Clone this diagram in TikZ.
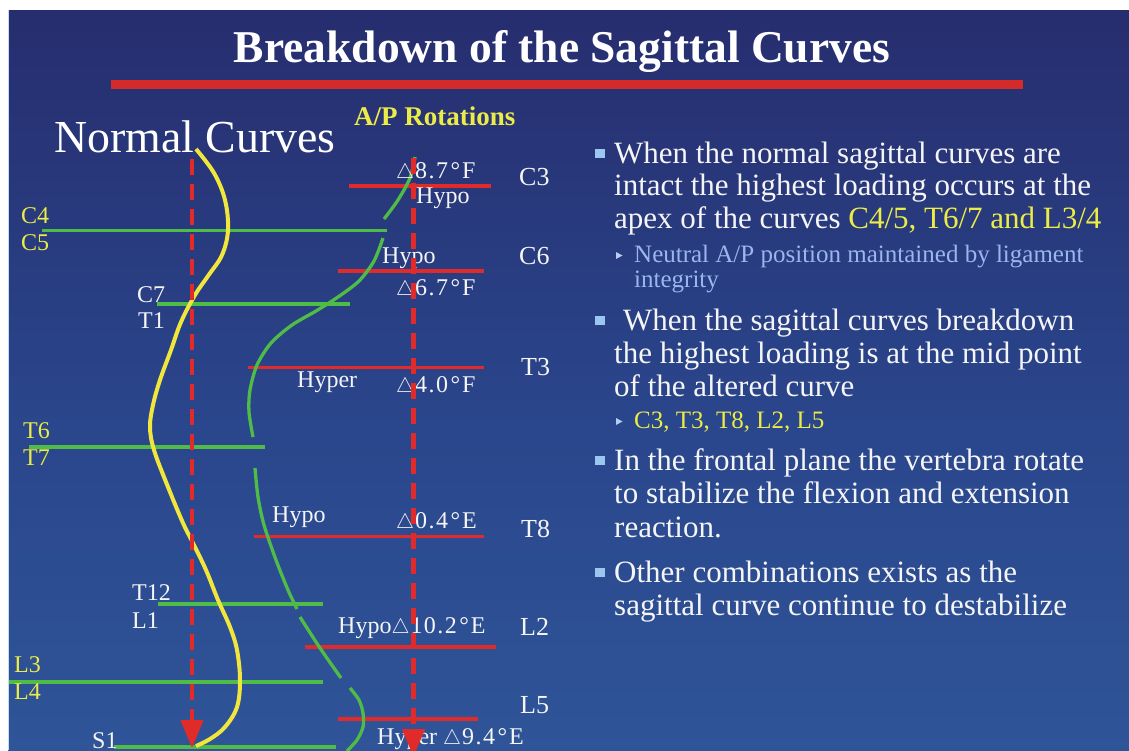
\documentclass[tikz,border=0pt]{standalone}
\usepackage{fontspec}
\usepackage{graphicx}
\setmainfont{Liberation Serif}
\usetikzlibrary{arrows.meta}

\definecolor{bgtop}{RGB}{34,33,56}
\definecolor{bgtoptwo}{RGB}{37,34,82}
\definecolor{bgup}{RGB}{38,40,104}
\definecolor{bgmid}{RGB}{42,70,140}
\definecolor{bgbot}{RGB}{53,100,166}
\definecolor{lred}{RGB}{225,42,42}
\definecolor{barred}{RGB}{212,42,42}
\definecolor{lgreen}{RGB}{80,188,72}
\definecolor{lyellow}{RGB}{240,230,60}
\definecolor{labyel}{RGB}{236,236,70}
\definecolor{subblue}{RGB}{155,182,236}
\definecolor{bulblue}{RGB}{155,198,240}
\definecolor{offwhite}{RGB}{245,245,245}

\pgfdeclareverticalshading{slidebg}{100bp}{color(0bp)=(bgbot); color(47bp)=(bgmid); color(81bp)=(bgup); color(93bp)=(bgtoptwo); color(100bp)=(bgtop)}

\newcommand{\dtri}{\resizebox{18pt}{14.5pt}{$\triangle$}}
\newcommand{\rot}[2]{\dtri\kern1pt{\addfontfeature{LetterSpace=6}#1}\kern2.5pt°\kern2pt #2}

\tikzset{
  lbl/.style={text=offwhite, font=\fontsize{24}{26}\selectfont, inner sep=0pt, anchor=base west},
  ylbl/.style={lbl, text=labyel},
  lvl/.style={lbl, font=\fontsize{26}{28}\selectfont},
  btxt/.style={text=offwhite, font=\fontsize{31}{33}\selectfont, inner sep=0pt, anchor=base west},
  stxt/.style={text=subblue, font=\fontsize{25}{27}\selectfont, inner sep=0pt, anchor=base west},
  gline/.style={draw=lgreen, line width=3.5pt},
  rline/.style={draw=lred, line width=3.5pt},
  gcurve/.style={draw=lgreen, line width=3.3pt},
  ycurve/.style={draw=lyellow, line width=4pt},
  axisarrow/.style={draw=lred, line width=4.5pt, dash pattern=on 16pt off 9pt, -{Triangle[length=28pt,width=22pt]}},
  bsq/.style={fill=bulblue, minimum size=9.5pt, inner sep=0pt},
  stri/.style={fill=subblue!70!white}
}

\begin{document}
\begin{tikzpicture}[x=1pt,y=-1pt]
\useasboundingbox (0,0) rectangle (1129,750);
\fill[white] (0,0) rectangle (1129,750);
\shade[shading=slidebg] (8,10) rectangle (1129,750);
\draw[line width=1pt, bulblue!60!white] (8.5,10) -- (8.5,750);

% title
\node[anchor=base, text=white, font=\bfseries\fontsize{45.5}{50}\selectfont, inner sep=0pt] (title) at (562,62) {Breakdown of the Sagittal Curves};
\fill[barred] (111,79.5) rectangle (1023,89);

\node[anchor=base west, inner sep=0pt, text=white, font=\fontsize{45.8}{50}\selectfont] (normal) at (54,152) {Normal Curves};
\node[anchor=base west, inner sep=0pt, text=labyel, font=\bfseries\fontsize{27}{29}\selectfont] (aprot) at (354,125) {A/P Rotations};

% green horizontal level lines
\draw[gline] (42,230.5) -- (387,230.5);
\draw[gline] (157,304) -- (350,304);
\draw[gline] (29,447) -- (265,447);
\draw[gline] (158,604) -- (323,604);
\draw[gline] (9,682) -- (323,682);
\draw[gline] (114,747) -- (336,747);

% red horizontal level lines
\draw[rline] (349,186) -- (491,186);
\draw[rline] (338,271) -- (484,271);
\draw[rline] (248,367.5) -- (484,367.5);
\draw[rline] (254,536.5) -- (484,536.5);
\draw[rline] (305,647) -- (496,647);
\draw[rline] (338,719) -- (478,719);

% yellow normal curve
\draw[ycurve] plot[smooth, tension=0.6] coordinates {(196,149) (214,173) (225,200) (228,230) (222,255) (208,276) (195,295) (181,322) (171,350) (160,380) (153,405) (150,427) (154,450) (168,487) (183,523) (193,543) (206,570) (218,600) (230,627) (237,650) (240,680) (237,707) (225,727) (210,739) (196,746)};

% green altered curve (broken)
\draw[gcurve] plot[smooth] coordinates {(415,157) (410,178) (398,200) (384,219)};
\draw[gcurve] plot[smooth] coordinates {(383,238) (374,261) (359,281) (338,297) (316,311) (292,325) (271,343) (257,365) (250,390) (249,412) (253,437)};
\draw[gcurve] plot[smooth] coordinates {(255,468) (258,497) (264,525) (276,560) (288,590) (297,609)};
\draw[gcurve] plot[smooth] coordinates {(300,617) (320,648) (341,678)};
\draw[gcurve] plot[smooth] coordinates {(350,688) (359,700) (363,713) (363,727) (357,740) (347,751)};

% left vertebra labels
\node[ylbl] (c4) at (21,223) {C4};
\node[ylbl] (c5) at (21,250) {C5};
\node[lbl] (c7) at (137,302) {C7};
\node[lbl] (t1) at (138,328) {T1};
\node[ylbl] (t6) at (23,438) {T6};
\node[ylbl] (t7) at (23,465) {T7};
\node[lbl] (t12) at (132,600) {T12};
\node[lbl] (l1) at (132,628) {L1};
\node[ylbl] (l3) at (14,672) {L3};
\node[ylbl] (l4) at (14,699) {L4};
\node[lbl] (s1) at (92,748) {S1};

% rotation labels
\node[lbl] (r1) at (396,178) {\rot{8.7}{F}};
\node[lbl] (h1) at (416,203) {Hypo};
\node[lvl] (lc3) at (519,185) {C3};
\node[lbl] (h2) at (382,263) {Hypo};
\node[lvl] (lc6) at (519,264) {C6};
\node[lbl] (r2) at (396,295) {\rot{6.7}{F}};
\node[lvl] (lt3) at (521,375) {T3};
\node[lbl] (h3) at (297,387) {Hyper};
\node[lbl] (r3) at (396,392) {\rot{4.0}{F}};
\node[lbl] (h4) at (272,522) {Hypo};
\node[lbl] (r4) at (396,528) {\rot{0.4}{E}};
\node[lvl] (lt8) at (521,537) {T8};
\node[lbl] (r5) at (338,633) {Hypo\rot{10.2}{E}};
\node[lvl] (ll2) at (520,635) {L2};
\node[lvl] (ll5) at (520,713) {L5};
\node[lbl] (r6) at (377,744) {Hyper \rot{9.4}{E}};

% vertical dashed arrows (drawn over the labels)
\coordinate (a1s) at (192,159);
\coordinate (a1e) at (192,748);
\coordinate (a2s) at (413.5,158);
\coordinate (a2e) at (413.5,757);
\draw[axisarrow] (a1s) -- (a1e);
\draw[axisarrow] (a2s) -- (a2e);

% bullets
\node[bsq] (q1) at (600,153.5) {};
\node[btxt] (b1a) at (614,163) {When the normal sagittal curves are};
\node[btxt] (b1b) at (614,195) {intact the highest loading occurs at the};
\node[btxt] (b1c) at (614,228) {apex of the curves \textcolor{labyel}{C4/5, T6/7 and L3/4}};
\fill[stri] (616,252) -- (622.5,255.5) -- (616,259) -- cycle;
\node[stxt] (s1a) at (634,262) {Neutral A/P position maintained by ligament};
\node[stxt] (s1b) at (634,287) {integrity};

\node[bsq] (q2) at (600,320.5) {};
\node[btxt] (b2a) at (623,330) {When the sagittal curves breakdown};
\node[btxt] (b2b) at (614,363) {the highest loading is at the mid point};
\node[btxt] (b2c) at (614,396) {of the altered curve};
\fill[stri] (616,418) -- (622.5,421.5) -- (616,425) -- cycle;
\node[stxt, text=labyel] (s2a) at (634,428) {C3, T3, T8, L2, L5};

\node[bsq] (q3) at (600,460.5) {};
\node[btxt] (b3a) at (614,470) {In the frontal plane the vertebra rotate};
\node[btxt] (b3b) at (614,503) {to stabilize the flexion and extension};
\node[btxt] (b3c) at (614,537) {reaction.};

\node[bsq] (q4) at (600,572.5) {};
\node[btxt] (b4a) at (614,582) {Other combinations exists as the};
\node[btxt] (b4b) at (614,615) {sagittal curve continue to destabilize};
\end{tikzpicture}
\end{document}
